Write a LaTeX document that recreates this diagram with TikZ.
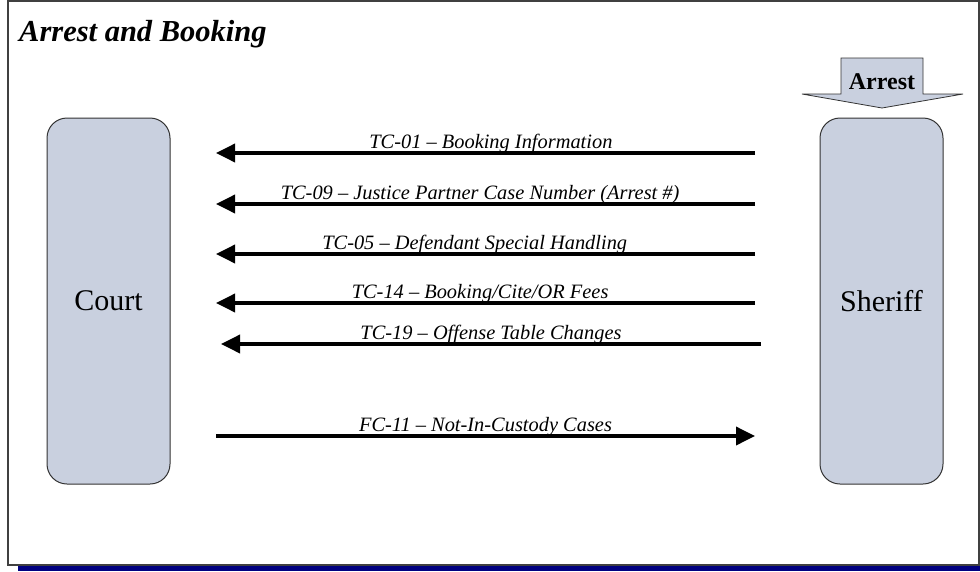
\documentclass[tikz,border=0pt]{standalone}
\usepackage{fontspec}
\setmainfont{Liberation Serif}
\usetikzlibrary{arrows.meta}

\definecolor{boxfill}{HTML}{C9D0DF}
\definecolor{framegray}{HTML}{404040}
\definecolor{barblue}{HTML}{000080}

\tikzset{
  party/.style={draw=black!80, line width=1pt, fill=boxfill, rounded corners=20pt,
    minimum width=123pt, minimum height=366pt, inner sep=0pt,
    font=\fontsize{30}{34}\selectfont},
  flow/.style={line width=3.6pt, -{Triangle[length=19pt,width=18pt]}},
  lbl/.style={font=\fontsize{20.4}{23}\selectfont\itshape, inner sep=0pt, anchor=base,
    yshift=5pt},
}

\begin{document}
\begin{tikzpicture}[x=1pt, y=-1pt]
  \useasboundingbox (0,0) rectangle (980,571);

  % page frame and bottom bar
  \fill[barblue] (18,566) rectangle (980,571);
  \draw[framegray, line width=1.2pt] (8,1) rectangle (979,565);

  % title
  \node[anchor=base west, inner sep=0pt, font=\fontsize{30.5}{34}\selectfont\bfseries\itshape]
    (title) at (19,41) {Arrest and Booking};

  % the two parties
  \node[party] (court) at (108.5,301) {Court};
  \node[party] (sheriff) at (881.5,301) {Sheriff};

  % incoming arrest trigger
  \draw[black!80, line width=0.8pt, fill=boxfill]
    (841,58) -- (923,58) -- (923,94) -- (963,94) -- (882,108) -- (802,94) -- (841,94) -- cycle;
  \node[font=\fontsize{24}{28}\selectfont\bfseries, inner sep=0pt] (arrest) at (882,82) {Arrest};

  % connector end points
  \coordinate (s1) at (755,153); \coordinate (c1) at (216,153);
  \coordinate (s2) at (755,204); \coordinate (c2) at (216,204);
  \coordinate (s3) at (755,254); \coordinate (c3) at (216,254);
  \coordinate (s4) at (755,303); \coordinate (c4) at (216,303);
  \coordinate (s5) at (761,344); \coordinate (c5) at (221,344);
  \coordinate (s6) at (755,436); \coordinate (c6) at (216,436);

  % data exchanges
  \draw[flow] (s1) -- (c1) node[lbl, pos=0.49] (l1) {TC-01 -- Booking Information};
  \draw[flow] (s2) -- (c2) node[lbl, pos=0.51] (l2) {TC-09 -- Justice Partner Case Number (Arrest \#)};
  \draw[flow] (s3) -- (c3) node[lbl, pos=0.52] (l3) {TC-05 -- Defendant Special Handling};
  \draw[flow] (s4) -- (c4) node[lbl, pos=0.51] (l4) {TC-14 -- Booking/Cite/OR Fees};
  \draw[flow] (s5) -- (c5) node[lbl, pos=0.50] (l5) {TC-19 -- Offense Table Changes};
  \draw[flow] (c6) -- (s6) node[lbl, pos=0.50] (l6) {FC-11 -- Not-In-Custody Cases};
\end{tikzpicture}
\end{document}
